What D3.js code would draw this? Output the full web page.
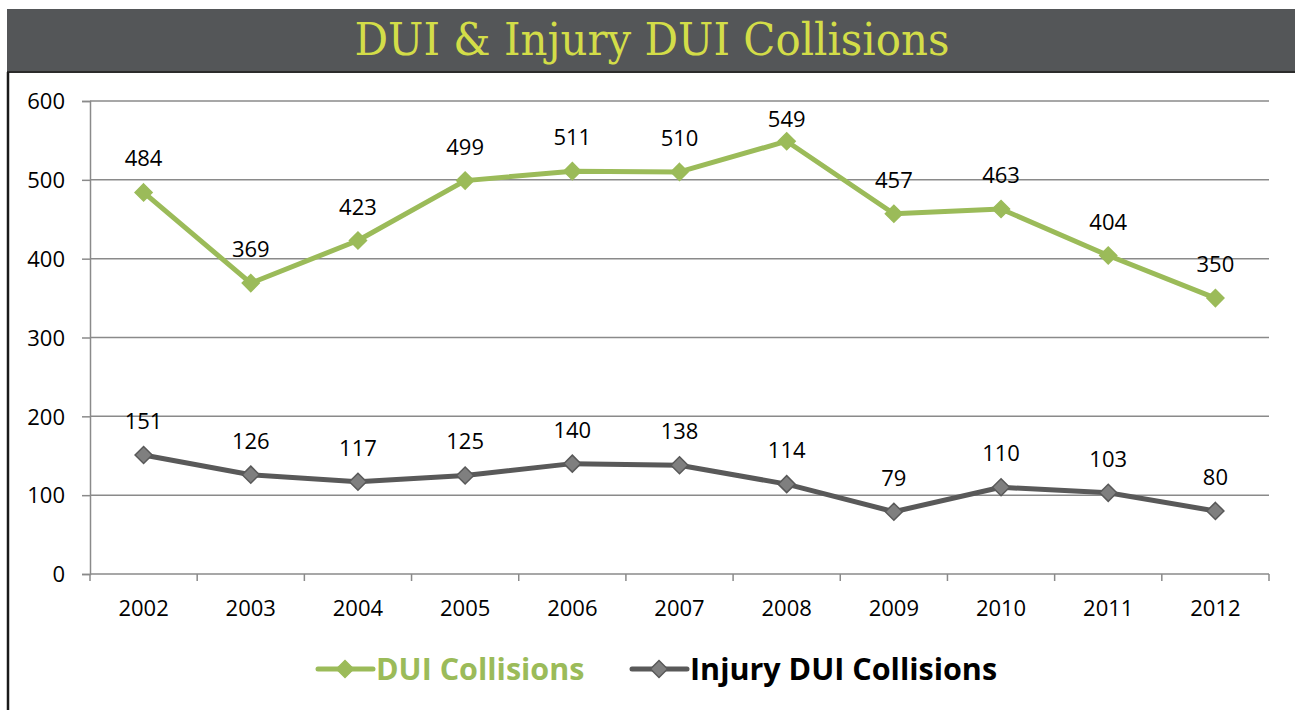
<!DOCTYPE html>
<html>
<head>
<meta charset="utf-8">
<script src="https://cdn.jsdelivr.net/npm/d3@7"></script>
<style>
  body { margin: 0; background: #fff; }
  svg text { font-family: "Open Sans", "Liberation Sans", sans-serif; }
</style>
</head>
<body>
<div id="chart"></div>
<script>
// Chart data
const years = ["2002", "2003", "2004", "2005", "2006", "2007", "2008", "2009", "2010", "2011", "2012"];
const duiCollisions = [484, 369, 423, 499, 511, 510, 549, 457, 463, 404, 350];
const injuryDuiCollisions = [151, 126, 117, 125, 140, 138, 114, 79, 110, 103, 80];
const yTicks = [0, 100, 200, 300, 400, 500, 600];
const seriesNames = ["DUI Collisions", "Injury DUI Collisions"];

const width = 1295, height = 710;
const margin = { top: 101, right: 26, bottom: 136, left: 90 };

const svg = d3.select("#chart")
    .append("svg")
    .attr("width", width)
    .attr("height", height);

// Title bar
svg.append("rect")
    .attr("x", 7).attr("y", 9)
    .attr("width", width - 7).attr("height", 63)
    .attr("fill", "#545658");
svg.append("line")
    .attr("x1", 7).attr("x2", width)
    .attr("y1", 72).attr("y2", 72)
    .attr("stroke", "#2b2b2b").attr("stroke-width", 2);
svg.append("line")
    .attr("x1", 8).attr("x2", 8)
    .attr("y1", 72).attr("y2", height)
    .attr("stroke", "#1a1a1a").attr("stroke-width", 2.5);

const title = svg.append("text")
    .attr("x", 652).attr("y", 55)
    .attr("text-anchor", "middle")
    .attr("fill", "#d3dd48")
    .style("font-family", "'DejaVu Serif', serif")
    .style("font-size", "44px")
    .text("DUI & Injury DUI Collisions");
title.attr("textLength", 595).attr("lengthAdjust", "spacingAndGlyphs");

// Scales
const x = d3.scaleBand()
    .domain(years)
    .range([margin.left, width - margin.right]);

const y = d3.scaleLinear()
    .domain([0, 600])
    .range([height - margin.bottom, margin.top]);

// Gridlines
svg.selectAll(".grid")
    .data(yTicks.filter(d => d > 0))
    .enter()
    .append("line")
    .attr("class", "grid")
    .attr("x1", margin.left)
    .attr("x2", width - margin.right)
    .attr("y1", d => y(d))
    .attr("y2", d => y(d))
    .attr("stroke", "#8a8a8a")
    .attr("stroke-width", 1.5);

// Y axis
const yAxis = svg.append("g")
    .attr("transform", "translate(" + margin.left + ",0)")
    .call(d3.axisLeft(y).tickValues(yTicks).tickSize(8).tickPadding(17));
yAxis.select(".domain").attr("stroke", "#8a8a8a").attr("stroke-width", 1.5);
yAxis.selectAll(".tick line").attr("stroke", "#8a8a8a").attr("stroke-width", 1.5);
yAxis.selectAll(".tick text")
    .attr("fill", "#000")
    .attr("dy", "0.35em")
    .style("font-size", "22px");

// X axis with ticks between categories
const xAxis = svg.append("g")
    .attr("transform", "translate(0," + y(0) + ")");
xAxis.append("line")
    .attr("x1", margin.left).attr("x2", width - margin.right)
    .attr("stroke", "#8a8a8a").attr("stroke-width", 1.5);
xAxis.selectAll(".xtick")
    .data(years.concat(["end"]))
    .enter()
    .append("line")
    .attr("x1", (d, i) => margin.left + i * x.step())
    .attr("x2", (d, i) => margin.left + i * x.step())
    .attr("y1", 0).attr("y2", 7)
    .attr("stroke", "#8a8a8a").attr("stroke-width", 1.5);
xAxis.selectAll(".xlabel")
    .data(years)
    .enter()
    .append("text")
    .attr("x", d => x(d) + x.bandwidth() / 2)
    .attr("y", 42)
    .attr("text-anchor", "middle")
    .style("font-size", "22px")
    .text(d => d);

// Series
const series = [
    { name: seriesNames[0], values: duiCollisions, line: "#9bbb59", fill: "#9bbb59", stroke: "#9bbb59" },
    { name: seriesNames[1], values: injuryDuiCollisions, line: "#595959", fill: "#7f7f7f", stroke: "#595959" }
];

const cx = d => x(d) + x.bandwidth() / 2;
const diamond = d3.symbol().type(d3.symbolDiamond2).size(185);

series.forEach(s => {
    const pts = years.map((yr, i) => ({ year: yr, value: s.values[i] }));

    svg.append("path")
        .datum(pts)
        .attr("fill", "none")
        .attr("stroke", s.line)
        .attr("stroke-width", 5)
        .attr("stroke-linejoin", "round")
        .attr("d", d3.line().x(d => cx(d.year)).y(d => y(d.value)));

    svg.selectAll(null)
        .data(pts)
        .enter()
        .append("path")
        .attr("transform", d => "translate(" + cx(d.year) + "," + y(d.value) + ")")
        .attr("d", diamond)
        .attr("fill", s.fill)
        .attr("stroke", s.stroke)
        .attr("stroke-width", 1.5);

    // labels sit above the point but stay inside the plot area
    svg.selectAll(null)
        .data(pts)
        .enter()
        .append("text")
        .attr("x", d => cx(d.year))
        .attr("y", d => Math.max(y(d.value) - 26, margin.top + 26))
        .attr("text-anchor", "middle")
        .style("font-size", "22px")
        .text(d => d.value);
});

// Legend
const legend = [
    { name: seriesNames[0], x: 318, line: "#9bbb59", fill: "#9bbb59", stroke: "#9bbb59", text: "#9bbb59" },
    { name: seriesNames[1], x: 632, line: "#595959", fill: "#7f7f7f", stroke: "#595959", text: "#000" }
];
const ly = 669;
legend.forEach(l => {
    svg.append("line")
        .attr("x1", l.x).attr("x2", l.x + 55)
        .attr("y1", ly).attr("y2", ly)
        .attr("stroke", l.line).attr("stroke-width", 5)
        .attr("stroke-linecap", "round");
    svg.append("path")
        .attr("transform", "translate(" + (l.x + 27) + "," + ly + ")")
        .attr("d", diamond)
        .attr("fill", l.fill)
        .attr("stroke", l.stroke)
        .attr("stroke-width", 1.5);
    svg.append("text")
        .attr("x", l.x + 58)
        .attr("y", ly + 11)
        .attr("fill", l.text)
        .style("font-size", "30.5px")
        .style("font-weight", "bold")
        .text(l.name);
});
</script>
</body>
</html>
